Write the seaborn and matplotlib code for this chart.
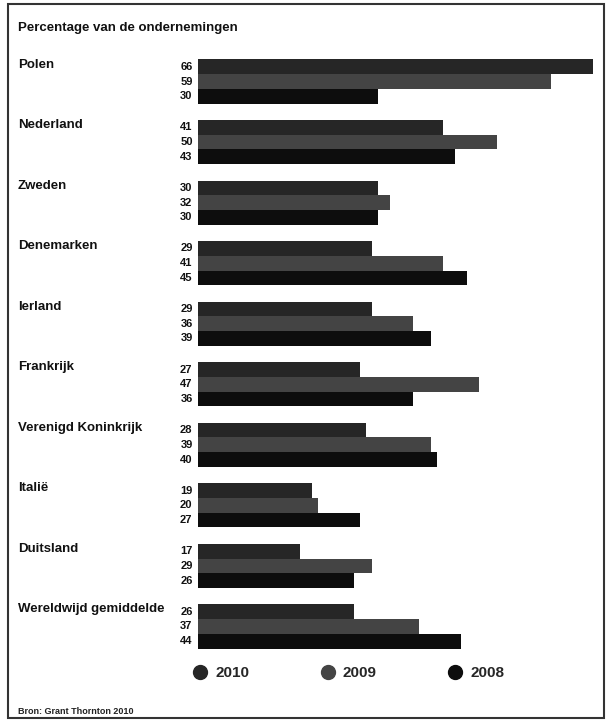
import numpy as np
import pandas as pd
import seaborn as sns
import matplotlib.pyplot as plt
from matplotlib.lines import Line2D
from matplotlib.patches import Rectangle
from matplotlib.transforms import blended_transform_factory

# data
landen = ['Polen', 'Nederland', 'Zweden', 'Denemarken', 'Ierland', 'Frankrijk',
          'Verenigd Koninkrijk', 'Italië', 'Duitsland', 'Wereldwijd gemiddelde']
jaren = ['2010', '2009', '2008']
waarden_2010 = [66, 41, 30, 29, 29, 27, 28, 19, 17, 26]
waarden_2009 = [59, 50, 32, 41, 36, 47, 39, 20, 29, 37]
waarden_2008 = [30, 43, 30, 45, 39, 36, 40, 27, 26, 44]

df = pd.DataFrame({
    'land': landen * 3,
    'jaar': ['2010'] * 10 + ['2009'] * 10 + ['2008'] * 10,
    'waarde': waarden_2010 + waarden_2009 + waarden_2008,
})

kleuren = {'2010': '#262626', '2009': '#444444', '2008': '#0d0d0d'}

sns.set_style('white')
plt.rcParams['font.family'] = ['Liberation Sans', 'DejaVu Sans']

fig = plt.figure(figsize=(6.1, 7.22), dpi=100)
ax = fig.add_axes([198 / 610, 1 - 656.75 / 722, (605 - 198) / 610, (656.75 - 51.25) / 722])

sns.barplot(data=df, y='land', x='waarde', hue='jaar', hue_order=jaren, order=landen,
            palette=kleuren, orient='h', width=0.73, ax=ax, legend=False, linewidth=0)

ax.set_xlim(0, 68)
ax.set_ylim(9.5, -0.5)
ax.set_xlabel('')
ax.set_ylabel('')
ax.set_xticks([])
ax.set_yticks([])
for s in ax.spines.values():
    s.set_visible(False)
ax.patch.set_alpha(0)

# value labels left of the bars
for cont, jaar in zip(ax.containers, jaren):
    for bar in cont:
        w = bar.get_width()
        ax.text(-0.9, bar.get_y() + bar.get_height() / 2, f'{int(w)}',
                ha='right', va='center', fontsize=8, fontweight='bold', color='#111111')

# country names at the left, level with the top bar
tr = blended_transform_factory(fig.transFigure, ax.transData)
for i, land in enumerate(landen):
    ax.text(18 / 610, i - 0.38, land, transform=tr, ha='left', va='top',
            fontsize=9.5, fontweight='bold', color='#111111')

fig.text(18 / 610, 1 - 28 / 722, 'Percentage van de ondernemingen', ha='left', va='center',
         fontsize=9.5, fontweight='bold', color='#111111')
fig.text(18 / 610, 1 - 712 / 722, 'Bron: Grant Thornton 2010', ha='left', va='center',
         fontsize=6.5, fontweight='bold', color='#222222')

handles = [Line2D([], [], marker='o', linestyle='', markersize=10,
                  markerfacecolor=kleuren[j], markeredgecolor=kleuren[j]) for j in jaren]
fig.legend(handles, jaren, loc='center left', bbox_to_anchor=(179 / 610, 1 - 673 / 722),
           ncol=3, frameon=False, columnspacing=4.6, handlelength=1.0, handletextpad=0.5,
           prop={'weight': 'bold', 'size': 11})

fig.patches.append(Rectangle((8 / 610, 4 / 722), 596 / 610, 714 / 722, transform=fig.transFigure,
                             fill=False, edgecolor='#333333', linewidth=1.5))

fig.savefig('out.png', dpi=100)
